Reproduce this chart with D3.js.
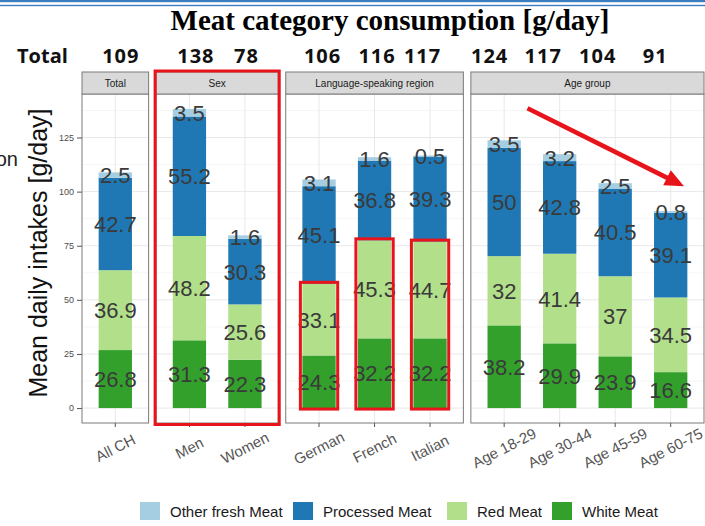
<!DOCTYPE html>
<html>
<head>
<meta charset="utf-8">
<script src="https://cdn.jsdelivr.net/npm/d3@7"></script>
<style>
  body { margin: 0; background: #fff; }
  svg { display: block; font-family: "Liberation Sans", Arial, sans-serif; }
</style>
</head>
<body>
<svg id="chart" width="705" height="526"></svg>
<script>
// data
var categories = ['All CH', 'Men', 'Women', 'German', 'French', 'Italian',
    'Age 18-29', 'Age 30-44', 'Age 45-59', 'Age 60-75'];
var panelNames = ['Total', 'Sex', 'Language-speaking region', 'Age group'];
var panelOf = [0, 1, 1, 2, 2, 2, 3, 3, 3, 3];
var seriesNames = ['White Meat', 'Red Meat', 'Processed Meat', 'Other fresh Meat'];
var whiteMeat = [26.8, 31.3, 22.3, 24.3, 32.2, 32.2, 38.2, 29.9, 23.9, 16.6];
var redMeat = [36.9, 48.2, 25.6, 33.1, 45.3, 44.7, 32, 41.4, 37, 34.5];
var processedMeat = [42.7, 55.2, 30.3, 45.1, 36.8, 39.3, 50, 42.8, 40.5, 39.1];
var otherMeat = [2.5, 3.5, 1.6, 3.1, 1.6, 0.5, 3.5, 3.2, 2.5, 0.8];
var totals = [109, 138, 78, 106, 116, 117, 124, 117, 104, 91];
var yTicks = [0, 25, 50, 75, 100, 125];
var highlighted = ['German', 'French', 'Italian'];

(function () {
    var svg = d3.select('#chart');
    var colors = {
        'White Meat': '#33a02c',
        'Red Meat': '#b2df8a',
        'Processed Meat': '#1f78b4',
        'Other fresh Meat': '#a6cee3'
    };
    var values = {
        'White Meat': whiteMeat,
        'Red Meat': redMeat,
        'Processed Meat': processedMeat,
        'Other fresh Meat': otherMeat
    };

    var options = {
        left: 82, right: 704, gap: 7.5,
        stripTop: 72, stripBottom: 94, bottom: 423
    };

    // top double rule
    svg.append('rect').attr('x', 0).attr('y', 0).attr('width', 705).attr('height', 2.2).attr('fill', '#3b7dc0');
    svg.append('rect').attr('x', 0).attr('y', 4.8).attr('width', 705).attr('height', 1.4).attr('fill', '#3b7dc0');

    svg.append('text')
        .attr('x', 390).attr('y', 30)
        .attr('text-anchor', 'middle')
        .style('font-family', '"Liberation Serif", "Times New Roman", serif')
        .style('font-weight', 'bold')
        .style('font-size', '29px')
        .text('Meat category consumption [g/day]');

    // fragment of slide text cut by the left edge
    svg.append('text')
        .attr('x', 18).attr('y', 166)
        .attr('text-anchor', 'end')
        .style('font-size', '20px')
        .attr('fill', '#222')
        .text('on');

    var y = d3.scaleLinear()
        .domain([-6.9, 145.1])
        .range([options.bottom, options.stripBottom]);

    // panel geometry from the category counts
    var counts = panelNames.map(function (p, i) {
        return panelOf.filter(function (q) { return q === i; }).length;
    });
    var unit = (options.right - options.left - options.gap * (panelNames.length - 1)) /
        d3.sum(counts, function (n) { return n + 0.2; });

    var panels = [];
    var x0 = options.left;
    panelNames.forEach(function (name, i) {
        var w = unit * (counts[i] + 0.2);
        var cats = categories.filter(function (c, j) { return panelOf[j] === i; });
        var xScale = d3.scaleBand()
            .domain(cats)
            .range([x0, x0 + w])
            .paddingInner(0.4)
            .paddingOuter(0.3);
        panels.push({ name: name, x0: x0, x1: x0 + w, scale: xScale });
        x0 += w + options.gap;
    });

    var xOf = function (i) { return panels[panelOf[i]].scale(categories[i]); };
    var bw = panels[0].scale.bandwidth();

    panels.forEach(function (p) {
        var g = svg.append('g');
        g.append('rect')
            .attr('x', p.x0).attr('y', options.stripBottom)
            .attr('width', p.x1 - p.x0).attr('height', options.bottom - options.stripBottom)
            .attr('fill', '#fff');

        // minor grid
        d3.range(12.5, 145, 25).forEach(function (v) {
            g.append('line')
                .attr('x1', p.x0).attr('x2', p.x1)
                .attr('y1', y(v)).attr('y2', y(v))
                .attr('stroke', '#f4f4f4').attr('stroke-width', 0.8);
        });
        yTicks.forEach(function (v) {
            g.append('line')
                .attr('x1', p.x0).attr('x2', p.x1)
                .attr('y1', y(v)).attr('y2', y(v))
                .attr('stroke', '#e8e8e8').attr('stroke-width', 1);
        });
        p.scale.domain().forEach(function (c) {
            var cx = p.scale(c) + p.scale.bandwidth() / 2;
            g.append('line')
                .attr('x1', cx).attr('x2', cx)
                .attr('y1', options.stripBottom).attr('y2', options.bottom)
                .attr('stroke', '#e8e8e8').attr('stroke-width', 1);
        });
    });

    // stacked bars
    var stackData = categories.map(function (c, i) {
        var row = { category: c, index: i };
        seriesNames.forEach(function (s) { row[s] = values[s][i]; });
        return row;
    });
    var stacked = d3.stack().keys(seriesNames)(stackData);

    stacked.forEach(function (layer) {
        svg.append('g').selectAll('rect')
            .data(layer)
            .join('rect')
            .attr('x', function (d) { return xOf(d.data.index); })
            .attr('width', bw)
            .attr('y', function (d) { return y(d[1]); })
            .attr('height', function (d) { return y(d[0]) - y(d[1]); })
            .attr('fill', colors[layer.key]);
    });

    stacked.forEach(function (layer) {
        svg.append('g').selectAll('text')
            .data(layer)
            .join('text')
            .attr('x', function (d) { return xOf(d.data.index) + bw / 2; })
            .attr('y', function (d) { return y((d[0] + d[1]) / 2) + 8; })
            .attr('text-anchor', 'middle')
            .attr('fill', '#3a3a3a')
            .style('font-size', '22px')
            .text(function (d) { return d.data[layer.key]; });
    });

    // panel borders, strips, axes
    panels.forEach(function (p) {
        svg.append('rect')
            .attr('x', p.x0).attr('y', options.stripBottom)
            .attr('width', p.x1 - p.x0).attr('height', options.bottom - options.stripBottom)
            .attr('fill', 'none').attr('stroke', '#7a7a7a').attr('stroke-width', 1);
        svg.append('rect')
            .attr('x', p.x0).attr('y', options.stripTop)
            .attr('width', p.x1 - p.x0).attr('height', options.stripBottom - options.stripTop)
            .attr('fill', '#d9d9d9').attr('stroke', '#7a7a7a').attr('stroke-width', 1);
        svg.append('text')
            .attr('x', (p.x0 + p.x1) / 2).attr('y', (options.stripTop + options.stripBottom) / 2 + 3.5)
            .attr('text-anchor', 'middle')
            .attr('fill', '#1a1a1a')
            .style('font-size', '10px')
            .text(p.name);

        var xAxis = svg.append('g')
            .attr('transform', 'translate(0,' + options.bottom + ')')
            .call(d3.axisBottom(p.scale).tickSize(4).tickSizeOuter(0).tickFormat(''));
        xAxis.select('.domain').remove();
        xAxis.selectAll('line').attr('stroke', '#555');
    });

    categories.forEach(function (c, i) {
        svg.append('text')
            .attr('transform', 'translate(' + (xOf(i) + bw / 2) + ',448) rotate(-27)')
            .attr('text-anchor', 'middle')
            .attr('dy', '0.35em')
            .attr('fill', '#555')
            .style('font-size', '15px')
            .text(c);
    });

    var yAxis = svg.append('g')
        .attr('transform', 'translate(' + options.left + ',0)')
        .call(d3.axisLeft(y).tickValues(yTicks).tickSize(5).tickPadding(3));
    yAxis.select('.domain').remove();
    yAxis.selectAll('line').attr('stroke', '#555');
    yAxis.selectAll('text').attr('fill', '#4d4d4d').style('font-size', '9px')
        .style('font-family', '"Liberation Sans", Arial, sans-serif');

    svg.append('text')
        .attr('transform', 'translate(47,253) rotate(-90)')
        .attr('text-anchor', 'middle')
        .attr('fill', '#111')
        .style('font-size', '25px')
        .text('Mean daily intakes [g/day]');

    // totals row
    var totalsRow = svg.append('g')
        .style('font-family', '"Open Sans", "Noto Sans", sans-serif')
        .style('font-weight', 'bold')
        .style('font-size', '20px')
        .attr('fill', '#111');
    totalsRow.append('text').attr('x', 17).attr('y', 63).text('Total');
    // the typed totals sit a little off their bars in the slide
    var totalShift = [5.5, 6.5, 1.5, 3.5, 2.5, -7.5, -14.5, -16.5, -17.5, -15.5];
    totals.forEach(function (t, i) {
        totalsRow.append('text')
            .attr('x', xOf(i) + bw / 2 + totalShift[i])
            .attr('y', 63)
            .attr('text-anchor', 'middle')
            .style('letter-spacing', '1px')
            .text(t);
    });

    // legend
    var legendX = [140, 293, 447, 552];
    var legendOrder = ['Other fresh Meat', 'Processed Meat', 'Red Meat', 'White Meat'];
    legendOrder.forEach(function (s, i) {
        svg.append('rect')
            .attr('x', legendX[i]).attr('y', 502)
            .attr('width', 20).attr('height', 18)
            .attr('fill', colors[s]);
        svg.append('text')
            .attr('x', legendX[i] + 30).attr('y', 517)
            .attr('fill', '#1a1a1a')
            .style('font-size', '15px')
            .text(s);
    });

    // red highlights
    var red = '#e8141b';
    var sex = panels[1];
    svg.append('rect')
        .attr('x', sex.x0 - 1).attr('y', options.stripTop - 1)
        .attr('width', sex.x1 - sex.x0 + 2).attr('height', options.bottom - options.stripTop + 2.5)
        .attr('fill', 'none').attr('stroke', red).attr('stroke-width', 3);

    highlighted.forEach(function (c) {
        var i = categories.indexOf(c);
        var top = whiteMeat[i] + redMeat[i];
        svg.append('rect')
            .attr('x', xOf(i) - 2).attr('y', y(top) - 1.5)
            .attr('width', bw + 4).attr('height', y(0) - y(top) + 2.5)
            .attr('fill', 'none').attr('stroke', red).attr('stroke-width', 3);
    });

    // trend arrow over the age group panel
    var age = panels[3];
    var a0 = [age.scale('Age 18-29') + bw * 1.2, y(138.5)];
    var a1 = [age.scale('Age 60-75') + bw * 0.9, y(102.5)];
    var ang = Math.atan2(a1[1] - a0[1], a1[0] - a0[0]);
    var head = 19, half = 8.5;
    var bx = a1[0] - head * Math.cos(ang), by = a1[1] - head * Math.sin(ang);
    svg.append('line')
        .attr('x1', a0[0]).attr('y1', a0[1])
        .attr('x2', bx + 2 * Math.cos(ang)).attr('y2', by + 2 * Math.sin(ang))
        .attr('stroke', red).attr('stroke-width', 4.5);
    svg.append('path')
        .attr('d', 'M' + a1[0] + ',' + a1[1] +
            'L' + (bx - half * Math.sin(ang)) + ',' + (by + half * Math.cos(ang)) +
            'L' + (bx + half * Math.sin(ang)) + ',' + (by - half * Math.cos(ang)) + 'Z')
        .attr('fill', red);
})();
</script>
</body>
</html>
